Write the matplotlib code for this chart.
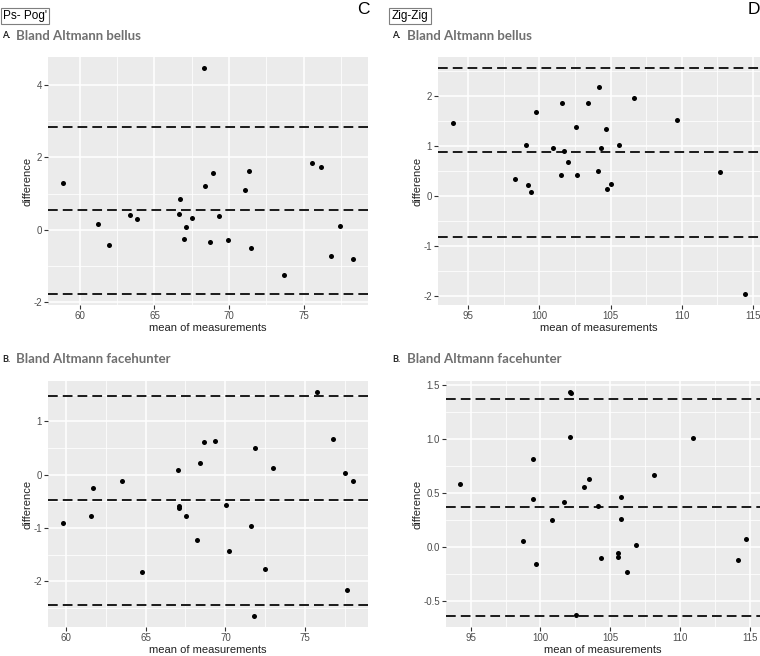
import matplotlib
matplotlib.use("Agg")
from matplotlib import pyplot as plt
from matplotlib.ticker import MultipleLocator, AutoMinorLocator, FormatStrFormatter
import numpy as np

plt.rcParams['font.family'] = ['Liberation Sans', 'DejaVu Sans']
plt.rcParams['axes.unicode_minus'] = False

# Ps- Pog', bellus
ca_x = [58.84, 61.24, 61.96, 63.36, 63.80, 66.62, 66.73, 66.98, 67.13, 67.49, 68.29, 68.38, 68.73,
        68.93, 69.33, 69.93, 71.04, 71.33, 71.44, 73.67, 75.58, 76.18, 76.82, 77.42, 78.33]
ca_y = [1.28, 0.15, -0.41, 0.41, 0.30, 0.43, 0.84, -0.25, 0.08, 0.32, 4.45, 1.21, -0.33,
        1.56, 0.39, -0.27, 1.11, 1.61, -0.50, -1.24, 1.83, 1.73, -0.71, 0.10, -0.79]
ca_lines = [2.84, 0.54, -1.76]

# Zig-Zig, bellus
da_x = [93.92, 98.33, 99.08, 99.20, 99.41, 99.78, 100.96, 101.49, 101.57, 101.71, 102.03, 102.55, 102.67,
        103.44, 104.10, 104.19, 104.36, 104.71, 104.78, 105.04, 105.60, 106.63, 109.68, 112.66, 114.46]
da_y = [1.46, 0.34, 1.01, 0.23, 0.09, 1.68, 0.95, 0.41, 1.85, 0.90, 0.68, 1.37, 0.41,
        1.86, 0.49, 2.17, 0.96, 1.34, 0.15, 0.24, 1.01, 1.95, 1.52, 0.48, -1.95]
da_lines = [2.55, 0.87, -0.82]

# Ps- Pog', facehunter
cb_x = [59.81, 61.58, 61.74, 63.53, 64.79, 67.05, 67.10, 67.12, 67.51, 68.22, 68.38, 68.63, 69.34,
        70.02, 70.21, 71.62, 71.85, 71.80, 72.45, 72.97, 75.71, 76.70, 77.45, 77.59, 78.01]
cb_y = [-0.90, -0.77, -0.25, -0.11, -1.83, 0.09, -0.59, -0.62, -0.77, -1.22, 0.22, 0.62, 0.64,
        -0.56, -1.43, -0.97, 0.50, -2.65, -1.78, 0.12, 1.55, 0.68, 0.03, -2.16, -0.12]
cb_lines = [1.47, -0.48, -2.44]

# Zig-Zig, facehunter
db_x = [94.26, 98.73, 99.47, 99.47, 99.68, 100.85, 101.66, 102.09, 102.09, 102.21, 102.52, 103.12, 103.48,
        104.15, 104.31, 105.56, 105.58, 105.75, 105.75, 106.20, 106.87, 108.11, 110.93, 114.15, 114.70]
db_y = [0.585, 0.052, 0.811, 0.442, -0.152, 0.250, 0.421, 1.015, 1.430, 1.424, -0.625, 0.552, 0.628,
        0.378, -0.101, -0.095, -0.052, 0.460, 0.262, -0.229, 0.015, 0.662, 1.003, -0.119, 0.079]
db_lines = [1.369, 0.372, -0.634]

W, H = 760, 656
fig = plt.figure(figsize=(W / 100, H / 100), dpi=100)


def rect(l, t, r, b):
    return [l / W, 1 - b / H, (r - l) / W, (b - t) / H]


def ba_panel(box, x, y, lines, ystep, yfmt=None):
    ax = fig.add_axes(rect(*box))
    ax.set_facecolor('#EBEBEB')
    for s in ax.spines.values():
        s.set_visible(False)
    ax.set_axisbelow(True)
    ax.xaxis.set_major_locator(MultipleLocator(5))
    ax.yaxis.set_major_locator(MultipleLocator(ystep))
    ax.xaxis.set_minor_locator(AutoMinorLocator(2))
    ax.yaxis.set_minor_locator(AutoMinorLocator(2))
    if yfmt:
        ax.yaxis.set_major_formatter(FormatStrFormatter(yfmt))
    ax.grid(which='major', color='white', lw=1.1)
    ax.grid(which='minor', color='white', lw=0.55)
    ax.tick_params(which='major', length=3, width=0.8, color='#333333',
                   labelcolor='#4D4D4D', labelsize=7, pad=1.5)
    ax.tick_params(which='minor', length=0)
    for v in lines:
        ax.axhline(v, color='#1a1a1a', lw=1.4, ls=(0, (5, 2.6)))
    ax.scatter(x, y, s=13, color='black', zorder=3, linewidths=0)
    xs = np.array(x)
    ys = np.concatenate([y, lines])
    dx = (xs.max() - xs.min()) * 0.05
    dy = (ys.max() - ys.min()) * 0.05
    ax.set_xlim(xs.min() - dx, xs.max() + dx)
    ax.set_ylim(ys.min() - dy, ys.max() + dy)
    ax.set_xlabel('mean of measurements', fontsize=8, color='#222222', labelpad=1)
    ax.set_ylabel('difference', fontsize=8, color='#222222', labelpad=0.5)
    return ax


ba_panel((48, 57, 368, 305), ca_x, ca_y, ca_lines, 2)
ba_panel((438, 57, 760, 305), da_x, da_y, da_lines, 1)
ba_panel((48, 381, 368, 627), cb_x, cb_y, cb_lines, 1)
ba_panel((446, 381, 760, 627), db_x, db_y, db_lines, 0.5, '%.1f')


def ftext(x, y, s, **kw):
    fig.text(x / W, 1 - y / H, s, **kw)


box = dict(boxstyle='square,pad=0.2', fc='white', ec='#7f7f7f', lw=0.8)
ftext(25, 16, "Ps- Pog'", fontsize=8.5, ha='center', va='center', bbox=box)
ftext(410, 16, "Zig-Zig", fontsize=8.5, ha='center', va='center', bbox=box)
ftext(363, 10, "C", fontsize=12.5, ha='center', va='center')
ftext(754, 9, "D", fontsize=12.5, ha='center', va='center')

for xa, xt in [(2, 16), (392, 407)]:
    for yy, letter, title in [(36, 'A.', 'Bland Altmann bellus'), (359, 'B.', 'Bland Altmann facehunter')]:
        ftext(xa, yy, letter, fontsize=6.5, fontweight='bold', color='#222222', va='center',
              family=['Lato', 'DejaVu Sans'])
        ftext(xt, yy, title, fontsize=9.5, fontweight='bold', color='#707070', va='center',
              family=['Lato', 'DejaVu Sans'])

fig.savefig('out.png', dpi=100)
